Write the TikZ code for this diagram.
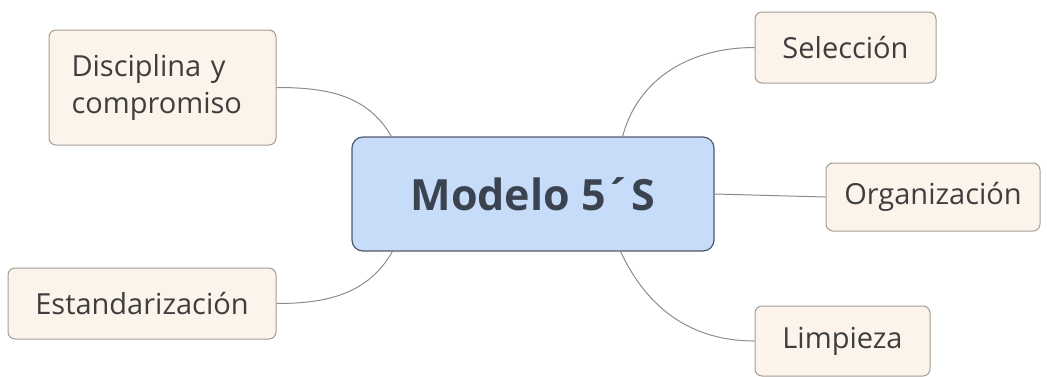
\documentclass[tikz,border=0pt]{standalone}
\usepackage{fontspec}
\setmainfont{Open Sans}
\usepackage{tikz}
\usetikzlibrary{positioning}

\definecolor{hojafill}{HTML}{FCF3EA}
\definecolor{hojaborde}{HTML}{A39C96}
\definecolor{centrofill}{HTML}{C6DCF8}
\definecolor{centroborde}{HTML}{4F5B6C}
\definecolor{centrotexto}{HTML}{3C4350}
\definecolor{texto}{HTML}{3E3E3E}
\definecolor{rama}{HTML}{8C8C8C}

\tikzset{
  hoja/.style={draw=hojaborde, fill=hojafill, rounded corners=7pt, line width=1pt,
    text=texto, font=\fontsize{29}{37}\selectfont, inner sep=0pt},
  centro/.style={draw=centroborde, fill=centrofill, rounded corners=11pt, line width=1.2pt,
    text=centrotexto, font=\fontsize{43}{48}\selectfont\bfseries, inner sep=0pt,
    minimum width=362pt, minimum height=114pt},
  rama/.style={draw=rama, line width=1pt}
}

\begin{document}
\begin{tikzpicture}[x=1pt, y=1pt]
  \useasboundingbox (0,0) rectangle (1047,376);
  % nodo central
  \node[centro] (m) at (533,182) {Modelo 5´S};
  % ramas
  \node[hoja, minimum width=227pt, minimum height=115pt, text width=182pt, align=left] (disc) at (162.5,288.5) {Disciplina y\\compromiso};
  \node[hoja, minimum width=181pt, minimum height=71pt] (sel) at (845.5,328.5) {Selección};
  \node[hoja, minimum width=214pt, minimum height=68pt] (org) at (933,179) {Organización};
  \node[hoja, minimum width=268pt, minimum height=71pt] (est) at (142,72.5) {Estandarización};
  \node[hoja, minimum width=175pt, minimum height=70pt] (lim) at (842.5,35) {Limpieza};

  \draw[rama] (disc.east) to[out=0, in=120] ([xshift=40pt]m.north west);
  \draw[rama] ([xshift=-92pt]m.north east) to[out=75, in=180] (sel.west);
  \draw[rama] (m.east) -- (org.west);
  \draw[rama] (est.east) to[out=0, in=-120] ([xshift=41pt]m.south west);
  \draw[rama] ([xshift=-94pt]m.south east) to[out=-65, in=180] (lim.west);
\end{tikzpicture}
\end{document}
